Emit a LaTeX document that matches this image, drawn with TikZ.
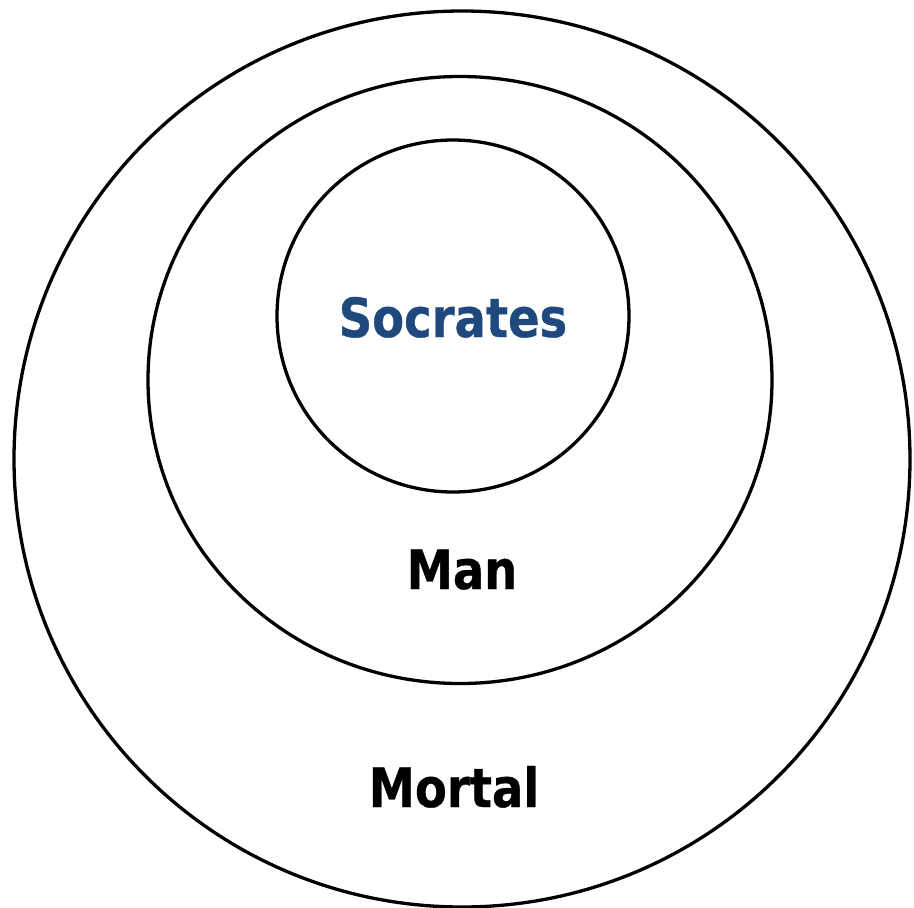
\documentclass[tikz,border=0pt]{standalone}
\usepackage{fontspec}
\usepackage{xcolor}
\usetikzlibrary{shapes.geometric, positioning}
\newfontfamily\labelfont[FakeStretch=0.86, FakeBold=0.6]{DejaVu Sans}
\definecolor{socblue}{RGB}{31,73,125}

\begin{document}
\begin{tikzpicture}[
    x=1pt, y=-1pt,
    ring/.style={draw, line width=3.3pt, inner sep=0pt},
    setlabel/.style={font=\labelfont\bfseries\fontsize{54}{58}\selectfont, anchor=base, inner sep=0pt}
]
\useasboundingbox (0,0) rectangle (914,908);
% Nested sets
\node[ring, circle, minimum size=896pt] (mortal) at (462,459) {};
\node[ring, ellipse, minimum width=624pt, minimum height=607pt] (man) at (460,380) {};
\node[ring, circle, minimum size=352pt] (socrates) at (453,316) {};

% Labels
\node[setlabel, text=socblue] (soclabel) at (453,337) {Socrates};
\node[setlabel] (manlabel) at (462,589) {Man};
\node[setlabel] (mortlabel) at (454,807) {Mortal};
\end{tikzpicture}
\end{document}
